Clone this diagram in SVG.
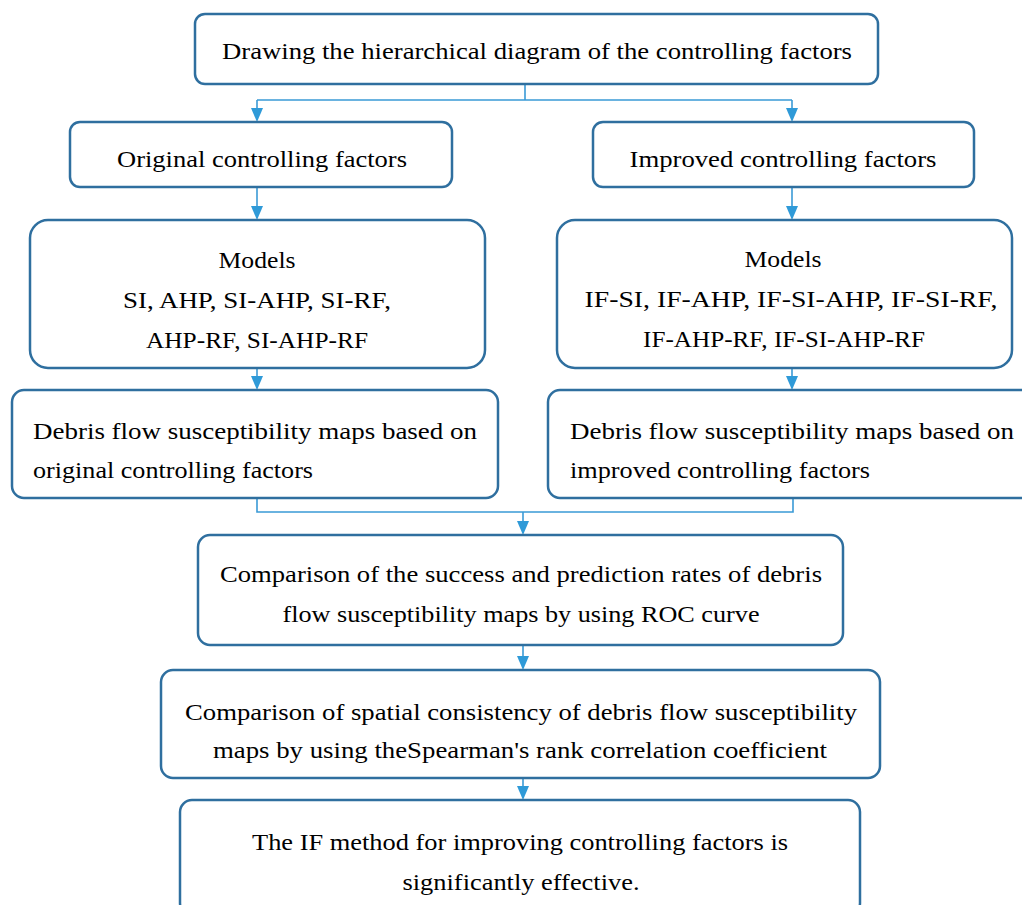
<svg xmlns="http://www.w3.org/2000/svg" width="1022" height="905" viewBox="0 0 1022 905">
<defs>
<style>
.box{fill:#ffffff;stroke:#2f6f9f;stroke-width:2.5}
.t{font-family:"Liberation Serif","DejaVu Serif",serif;font-size:23.5px;fill:#000000}
.c{text-anchor:middle}
.ln{fill:none;stroke:#3a9ad6;stroke-width:1.6}
.ar{fill:#2f9ad8}
</style>
</defs>
<rect width="1022" height="905" fill="#ffffff"/>
<g id="connectors">
<path class="ln" d="M525,84 V100 M257,100 H792"/>
<path class="ln" d="M257,100 V110"/>
<path class="ln" d="M792,100 V110"/>
<path class="ln" d="M257,187 V208"/>
<path class="ln" d="M792,187 V208"/>
<path class="ln" d="M257,368 V378"/>
<path class="ln" d="M792,368 V378"/>
<path class="ln" d="M257,498 V512 H793 V498"/>
<path class="ln" d="M523,512 V523"/>
<path class="ln" d="M523,645 V658"/>
<path class="ln" d="M523,778 V788"/>
<path class="ar" d="M251,108 H263 L257,122 Z"/>
<path class="ar" d="M786,108 H798 L792,122 Z"/>
<path class="ar" d="M251,206 H263 L257,220 Z"/>
<path class="ar" d="M786,206 H798 L792,220 Z"/>
<path class="ar" d="M251,376 H263 L257,390 Z"/>
<path class="ar" d="M786,376 H798 L792,390 Z"/>
<path class="ar" d="M517,521 H529 L523,535 Z"/>
<path class="ar" d="M517,656 H529 L523,670 Z"/>
<path class="ar" d="M517,786 H529 L523,800 Z"/>
</g>
<g id="n1">
<rect class="box" x="195" y="14" width="683" height="70" rx="10"/>
<text class="t c" x="537" y="59" textLength="630" lengthAdjust="spacingAndGlyphs">Drawing the hierarchical diagram of the controlling factors</text>
</g>
<g id="n2">
<rect class="box" x="70" y="122" width="382" height="65" rx="10"/>
<text class="t c" x="262" y="167" textLength="290" lengthAdjust="spacingAndGlyphs">Original controlling factors</text>
</g>
<g id="n3">
<rect class="box" x="593" y="122" width="381" height="65" rx="10"/>
<text class="t c" x="783" y="167" textLength="307" lengthAdjust="spacingAndGlyphs">Improved controlling factors</text>
</g>
<g id="n4">
<rect class="box" x="30" y="220" width="455" height="148" rx="18"/>
<text class="t c" x="257" y="268" textLength="77" lengthAdjust="spacingAndGlyphs">Models</text>
<text class="t c" x="257" y="308" textLength="268" lengthAdjust="spacingAndGlyphs">SI, AHP, SI-AHP, SI-RF,</text>
<text class="t c" x="257" y="348" textLength="222" lengthAdjust="spacingAndGlyphs">AHP-RF, SI-AHP-RF</text>
</g>
<g id="n5">
<rect class="box" x="557" y="220" width="455" height="148" rx="18"/>
<text class="t c" x="783" y="267" textLength="77" lengthAdjust="spacingAndGlyphs">Models</text>
<text class="t c" x="791" y="307" textLength="413" lengthAdjust="spacingAndGlyphs">IF-SI, IF-AHP, IF-SI-AHP, IF-SI-RF,</text>
<text class="t c" x="784" y="347" textLength="282" lengthAdjust="spacingAndGlyphs">IF-AHP-RF, IF-SI-AHP-RF</text>
</g>
<g id="n6">
<rect class="box" x="12" y="390" width="486" height="108" rx="12"/>
<text class="t" x="33" y="439" textLength="444" lengthAdjust="spacingAndGlyphs">Debris flow susceptibility maps based on</text>
<text class="t" x="33" y="478" textLength="280" lengthAdjust="spacingAndGlyphs">original controlling factors</text>
</g>
<g id="n7">
<rect class="box" x="548" y="390" width="490" height="108" rx="12"/>
<text class="t" x="570" y="439" textLength="444" lengthAdjust="spacingAndGlyphs">Debris flow susceptibility maps based on</text>
<text class="t" x="570" y="478" textLength="300" lengthAdjust="spacingAndGlyphs">improved controlling factors</text>
</g>
<g id="n8">
<rect class="box" x="198" y="535" width="645" height="110" rx="12"/>
<text class="t c" x="521" y="582" textLength="602" lengthAdjust="spacingAndGlyphs">Comparison of the success and prediction rates of debris</text>
<text class="t c" x="521" y="622" textLength="477" lengthAdjust="spacingAndGlyphs">flow susceptibility maps by using ROC curve</text>
</g>
<g id="n9">
<rect class="box" x="161" y="670" width="719" height="108" rx="12"/>
<text class="t c" x="521" y="720" textLength="672" lengthAdjust="spacingAndGlyphs">Comparison of spatial consistency of debris flow susceptibility</text>
<text class="t c" x="520" y="758" textLength="614" lengthAdjust="spacingAndGlyphs">maps by using theSpearman's rank correlation coefficient</text>
</g>
<g id="n10">
<rect class="box" x="180" y="800" width="680" height="115" rx="12"/>
<text class="t c" x="520" y="850" textLength="536" lengthAdjust="spacingAndGlyphs">The IF method for improving controlling factors is</text>
<text class="t c" x="521" y="890" textLength="237" lengthAdjust="spacingAndGlyphs">significantly effective.</text>
</g>
</svg>
